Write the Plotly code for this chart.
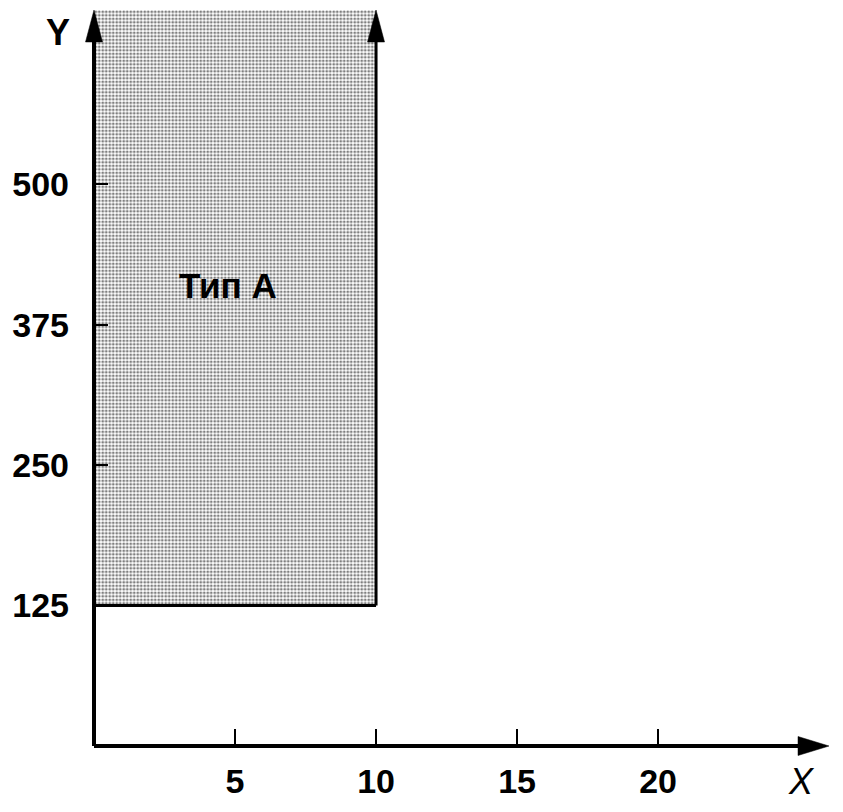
import plotly.graph_objects as go

# Data
x_ticks = [5, 10, 15, 20]
y_ticks = [125, 250, 375, 500]
region_x = [0, 10]          # Тип А spans x from 0 to 10
region_y_min = 125          # and y from 125 upward
region_label = "Тип А"
label_pos = (4.75, 410)
x_max = 26.06
y_max = 655

FONT = "Liberation Sans"
fig = go.Figure()

# Shaded region
fig.add_trace(go.Scatter(
    x=[region_x[0], region_x[1], region_x[1], region_x[0], region_x[0]],
    y=[region_y_min, region_y_min, y_max, y_max, region_y_min],
    mode="lines", fill="toself",
    line=dict(width=0),
    fillcolor="rgba(0,0,0,0)",
    fillpattern=dict(shape=".", size=3.5, solidity=0.5, fgcolor="black", bgcolor="white"),
    hoverinfo="skip", showlegend=False,
))

shapes = []
# bottom edge of region
shapes.append(dict(type="line", xref="x", yref="y", x0=region_x[0], x1=region_x[1],
                   y0=region_y_min, y1=region_y_min, line=dict(color="black", width=3)))
# right edge of region (arrow)
shapes.append(dict(type="line", xref="x", yref="y", x0=region_x[1], x1=region_x[1],
                   y0=region_y_min, y1=y_max - 20, line=dict(color="black", width=3)))
# axes lines (paper refs so they are not clipped at the plot edge)
shapes.append(dict(type="line", xref="paper", yref="paper", x0=0, x1=0.97,
                   y0=0, y1=0, line=dict(color="black", width=4)))
shapes.append(dict(type="line", xref="paper", yref="paper", x0=0, x1=0,
                   y0=0, y1=0.97, line=dict(color="black", width=4)))

# arrowheads (pixel sized, anchored at the tips)
def head(xa, ya, path, xref="x", yref="y"):
    return dict(type="path", xref=xref, yref=yref, xsizemode="pixel", ysizemode="pixel",
                xanchor=xa, yanchor=ya, path=path,
                fillcolor="black", line=dict(color="black", width=0.5))

up = "M-8.5,-32 L8.5,-32 L0,0 Z"
right = "M-31,-9.5 L-31,9.5 L0,0 Z"
shapes.append(head(0, 1, up, "paper", "paper"))
shapes.append(head(region_x[1], y_max, up))
shapes.append(head(1, 0, right, "paper", "paper"))

fig.add_annotation(x=label_pos[0], y=label_pos[1], xref="x", yref="y",
                   xanchor="center", yanchor="middle",
                   text="<b>" + region_label + "</b>", showarrow=False,
                   font=dict(family=FONT, size=35, color="black"))

fig.add_annotation(x=-0.049, y=0.969, xref="paper", yref="paper",
                   xanchor="center", yanchor="middle",
                   text="<b>Y</b>", showarrow=False,
                   font=dict(family=FONT, size=36, color="black"))
fig.add_annotation(x=0.963, y=-0.0476, xref="paper", yref="paper",
                   xanchor="center", yanchor="middle",
                   text="<i>X</i>", showarrow=False,
                   font=dict(family=FONT, size=36, color="black"))

fig.update_xaxes(
    range=[0, x_max], tickvals=x_ticks, ticktext=[str(v) for v in x_ticks],
    ticks="inside", ticklen=17, tickwidth=2, tickcolor="black",
    showgrid=False, zeroline=False, showline=False, automargin=False,
    tickfont=dict(family=FONT, size=34, color="black", weight="bold"),
    ticklabelstandoff=12,
)
fig.update_yaxes(
    range=[0, y_max], tickvals=y_ticks, ticktext=[str(v) for v in y_ticks],
    ticks="inside", ticklen=14, tickwidth=2, tickcolor="black",
    showgrid=False, zeroline=False, showline=False, automargin=False,
    tickfont=dict(family=FONT, size=34, color="black", weight="bold"),
    ticklabelstandoff=24,
)

# page body has an 8px margin: compensate so the plot lands where the reference has it
fig.update_layout(
    width=835, height=804,
    margin=dict(l=86, r=14, t=2, b=66),
    plot_bgcolor="white", paper_bgcolor="white",
    shapes=shapes,
)

fig.write_html("out.html")
